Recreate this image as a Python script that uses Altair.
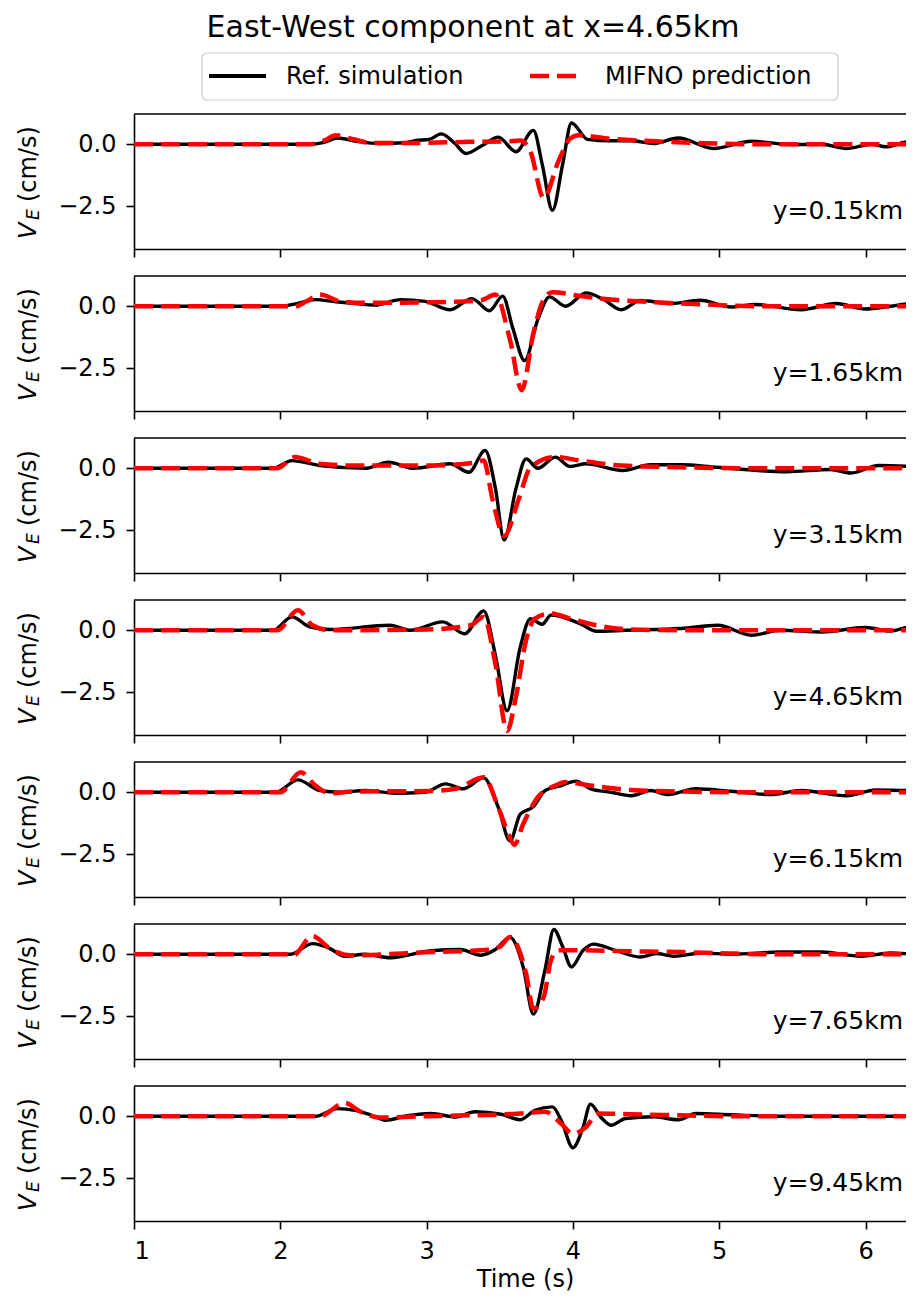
import altair as alt
import pandas as pd

# ---------------- data ----------------
TITLE = "East-West component at x=4.65km"
LEGEND_LABELS = ["Ref. simulation", "MIFNO prediction"]
PANEL_LABELS = ["y=0.15km", "y=1.65km", "y=3.15km", "y=4.65km", "y=6.15km", "y=7.65km", "y=9.45km"]
X_TICKS = [1, 2, 3, 4, 5, 6]
Y_TICKS = [0.0, -2.5]
X_DOMAIN = [1.0, 6.345]
Y_DOMAIN = [-4.22, 1.22]

ref_t_1 = [1.0, 2.2, 2.30, 2.39, 2.52, 2.68, 2.85, 2.92, 3.02, 3.10, 3.19, 3.27, 3.38, 3.49, 3.61, 3.73, 3.79, 3.86, 3.93, 3.99, 4.10, 4.25, 4.40, 4.55, 4.72, 4.96, 5.22, 5.49, 5.70, 5.87, 6.04, 6.14, 6.29, 6.345]
ref_v_1 = [0.0, 0.0, 0.08, 0.25, 0.12, 0.03, 0.06, 0.15, 0.2, 0.42, 0.05, -0.37, -0.05, 0.29, -0.3, 0.56, -0.8, -2.66, -0.8, 0.86, 0.2, 0.14, 0.14, 0.03, 0.25, -0.17, 0.12, -0.01, 0.0, -0.17, 0.0, -0.1, 0.1, 0.05]
pred_t_1 = [1.0, 2.2, 2.3, 2.38, 2.5, 2.62, 2.9, 3.3, 3.55, 3.64, 3.71, 3.80, 3.90, 3.98, 4.04, 4.26, 4.57, 4.91, 5.3, 6.345]
pred_v_1 = [0.0, 0.0, 0.15, 0.36, 0.2, 0.05, 0.05, 0.1, 0.12, 0.15, -0.3, -2.16, -0.7, 0.22, 0.36, 0.22, 0.12, 0.04, 0.0, 0.0]

ref_t_2 = [1.0, 2.0, 2.12, 2.24, 2.38, 2.51, 2.65, 2.82, 2.99, 3.16, 3.31, 3.43, 3.52, 3.59, 3.67, 3.76, 3.84, 3.95, 4.09, 4.21, 4.33, 4.46, 4.67, 4.87, 5.08, 5.25, 5.56, 5.80, 6.00, 6.17, 6.31, 6.345]
ref_v_2 = [0.0, 0.0, 0.12, 0.27, 0.18, 0.11, 0.05, 0.27, 0.2, -0.14, 0.31, -0.18, 0.41, -0.9, -2.19, -0.54, 0.38, 0.0, 0.54, 0.27, -0.14, 0.23, 0.11, 0.24, -0.03, 0.07, -0.14, 0.11, -0.11, 0.0, 0.11, 0.08]
pred_t_2 = [1.0, 2.1, 2.18, 2.27, 2.41, 2.58, 3.03, 3.37, 3.47, 3.57, 3.65, 3.73, 3.80, 3.86, 4.05, 4.26, 4.57, 4.91, 5.3, 6.345]
pred_v_2 = [0.0, 0.0, 0.2, 0.47, 0.2, 0.14, 0.16, 0.24, 0.47, -1.35, -3.38, -1.08, 0.27, 0.57, 0.41, 0.27, 0.16, 0.07, 0.0, 0.0]

ref_t_3 = [1.0, 1.95, 2.08, 2.27, 2.58, 2.74, 2.91, 3.16, 3.29, 3.40, 3.47, 3.53, 3.61, 3.68, 3.76, 3.88, 3.98, 4.09, 4.34, 4.53, 4.74, 4.98, 5.46, 5.76, 5.90, 6.09, 6.31, 6.345]
ref_v_3 = [0.0, 0.0, 0.31, 0.11, 0.0, 0.24, 0.0, 0.18, -0.16, 0.72, -0.8, -2.89, -0.84, 0.38, 0.0, 0.45, 0.07, 0.18, -0.09, 0.14, 0.14, 0.04, -0.14, -0.05, -0.19, 0.11, 0.07, 0.06]
pred_t_3 = [1.0, 1.98, 2.10, 2.27, 2.51, 3.0, 3.33, 3.39, 3.45, 3.53, 3.63, 3.71, 3.88, 4.05, 4.33, 4.74, 5.2, 6.345]
pred_v_3 = [0.0, 0.0, 0.45, 0.18, 0.11, 0.11, 0.22, 0.31, -1.24, -2.73, -1.24, 0.04, 0.45, 0.31, 0.11, 0.04, 0.0, 0.0]

ref_t_4 = [1.0, 1.95, 2.08, 2.20, 2.34, 2.75, 2.89, 3.11, 3.26, 3.39, 3.47, 3.55, 3.64, 3.71, 3.79, 3.85, 3.98, 4.07, 4.16, 4.36, 4.74, 4.99, 5.22, 5.42, 5.70, 6.00, 6.17, 6.31, 6.345]
ref_v_4 = [0.0, 0.0, 0.54, 0.14, 0.03, 0.2, 0.0, 0.34, -0.14, 0.78, -1.0, -3.24, -0.68, 0.47, 0.24, 0.61, 0.43, 0.2, -0.04, 0.0, 0.07, 0.2, -0.2, 0.0, -0.07, 0.11, -0.03, 0.14, 0.12]
pred_t_4 = [1.0, 1.98, 2.12, 2.22, 2.34, 3.0, 3.30, 3.39, 3.47, 3.55, 3.61, 3.68, 3.74, 3.85, 3.98, 4.16, 4.40, 4.8, 6.345]
pred_v_4 = [0.0, 0.0, 0.81, 0.2, 0.0, 0.03, 0.2, 0.54, -1.35, -4.05, -2.7, -0.4, 0.47, 0.68, 0.47, 0.2, 0.03, 0.0, 0.0]

ref_t_5 = [1.0, 1.97, 2.12, 2.27, 2.41, 2.58, 2.79, 2.99, 3.13, 3.25, 3.39, 3.49, 3.57, 3.64, 3.73, 3.81, 3.92, 4.02, 4.12, 4.26, 4.40, 4.53, 4.65, 4.84, 5.08, 5.35, 5.56, 5.87, 6.07, 6.31, 6.345]
ref_v_5 = [0.0, 0.0, 0.5, 0.07, 0.0, 0.07, -0.04, 0.0, 0.34, 0.14, 0.58, -0.61, -1.96, -0.88, -0.58, 0.07, 0.27, 0.45, 0.14, 0.0, -0.14, 0.07, -0.09, 0.14, 0.04, -0.09, 0.07, -0.14, 0.09, 0.07, 0.07]
pred_t_5 = [1.0, 2.0, 2.14, 2.24, 2.34, 2.5, 3.03, 3.20, 3.39, 3.49, 3.56, 3.60, 3.66, 3.76, 3.88, 3.95, 4.12, 4.40, 4.74, 5.1, 6.345]
pred_v_5 = [0.0, 0.0, 0.81, 0.27, -0.04, 0.03, 0.05, 0.14, 0.61, -0.61, -1.69, -2.12, -1.28, -0.2, 0.27, 0.41, 0.27, 0.09, 0.03, 0.0, 0.0]

ref_t_6 = [1.0, 2.07, 2.22, 2.34, 2.44, 2.58, 2.75, 3.03, 3.23, 3.37, 3.47, 3.57, 3.66, 3.73, 3.81, 3.87, 3.93, 3.99, 4.07, 4.14, 4.29, 4.46, 4.57, 4.69, 4.88, 5.08, 5.42, 5.70, 5.97, 6.17, 6.345]
ref_v_6 = [0.0, 0.0, 0.43, 0.23, -0.08, 0.0, -0.14, 0.14, 0.19, -0.04, 0.19, 0.68, -0.51, -2.41, -0.6, 1.0, 0.3, -0.51, 0.16, 0.41, 0.16, -0.11, 0.03, -0.08, 0.05, 0.0, 0.09, 0.09, -0.08, 0.05, 0.0]
pred_t_6 = [1.0, 2.04, 2.08, 2.22, 2.34, 2.48, 3.03, 3.37, 3.50, 3.57, 3.68, 3.73, 3.80, 3.85, 3.90, 4.05, 4.40, 4.74, 5.08, 5.4, 6.345]
pred_v_6 = [0.0, 0.0, -0.08, 0.73, 0.23, -0.04, 0.09, 0.16, 0.3, 0.7, -0.78, -2.2, -1.73, -0.24, 0.16, 0.16, 0.12, 0.09, 0.03, 0.0, 0.0]

ref_t_7 = [1.0, 2.24, 2.39, 2.51, 2.62, 2.72, 2.88, 3.03, 3.20, 3.33, 3.51, 3.64, 3.74, 3.86, 3.92, 4.00, 4.07, 4.12, 4.19, 4.26, 4.36, 4.55, 4.72, 4.84, 5.08, 5.42, 6.345]
ref_v_7 = [0.0, 0.0, 0.31, 0.24, 0.05, -0.16, 0.03, 0.11, -0.03, 0.18, 0.08, -0.14, 0.24, 0.38, -0.16, -1.27, -0.43, 0.49, -0.03, -0.36, -0.09, -0.02, -0.14, 0.11, 0.06, 0.0, 0.0]
pred_t_7 = [1.0, 2.27, 2.44, 2.55, 2.68, 3.0, 3.64, 3.81, 3.92, 4.00, 4.09, 4.17, 4.39, 4.74, 5.08, 6.345]
pred_v_7 = [0.0, 0.0, 0.54, 0.18, -0.05, 0.0, 0.11, 0.18, -0.3, -0.7, -0.43, 0.11, 0.08, 0.04, 0.0, 0.0]

REF = [(ref_t_1, ref_v_1), (ref_t_2, ref_v_2), (ref_t_3, ref_v_3), (ref_t_4, ref_v_4),
       (ref_t_5, ref_v_5), (ref_t_6, ref_v_6), (ref_t_7, ref_v_7)]
PRED = [(pred_t_1, pred_v_1), (pred_t_2, pred_v_2), (pred_t_3, pred_v_3), (pred_t_4, pred_v_4),
        (pred_t_5, pred_v_5), (pred_t_6, pred_v_6), (pred_t_7, pred_v_7)]

# ---------------- layout / style ----------------
FONT = "DejaVu Sans"
W, H = 782, 135
N = len(PANEL_LABELS)


def text_layer(txt, x, y, size, align="left", baseline="alphabetic", angle=0, italic=False):
    kw = dict(text=txt, font=FONT, fontSize=size, align=align, baseline=baseline, color="black")
    if angle:
        kw["angle"] = angle
    if italic:
        kw["fontStyle"] = "italic"
    return alt.Chart(pd.DataFrame({"k": [0]})).mark_text(**kw).encode(x=alt.value(x), y=alt.value(y))


panels = []
for i in range(N):
    last = i == N - 1
    ref_df = pd.DataFrame({"t": REF[i][0], "v": REF[i][1]})
    pred_df = pd.DataFrame({"t": PRED[i][0], "v": PRED[i][1]})

    x_axis = alt.Axis(values=X_TICKS, labels=last, title="Time (s)" if last else None,
                      tickSize=8, labelPadding=10, titlePadding=4, format="d")
    xenc = alt.X("t:Q", scale=alt.Scale(domain=X_DOMAIN, nice=False, zero=False), axis=x_axis)
    yenc = alt.Y("v:Q", scale=alt.Scale(domain=Y_DOMAIN, nice=False, zero=False),
                 axis=alt.Axis(values=Y_TICKS, format=".1f", title=None, tickSize=8, labelPadding=10))

    ref_line = alt.Chart(ref_df).mark_line(color="black", strokeWidth=3.4, interpolate="monotone",
                                           clip=True).encode(x=xenc, y=yenc)
    pred_line = alt.Chart(pred_df).mark_line(color="#ff0000", strokeWidth=4.5, strokeDash=[19, 8],
                                             interpolate="monotone", clip=True).encode(x=xenc, y=yenc)

    top_rule = alt.Chart(pd.DataFrame({"k": [0]})).mark_rule(color="black", strokeWidth=1.6).encode(
        x=alt.value(0), x2=alt.value(W), y=alt.value(0))

    label = text_layer(PANEL_LABELS[i], W - 13, 105, 25, align="right")

    yt_v = text_layer("V", -98.5, 125, 24, angle=270, italic=True)
    yt_e = text_layer("E", -95, 106, 17, angle=270, italic=True)
    yt_u = text_layer("(cm/s)", -98.5, 88, 24, angle=270)

    layers = [ref_line, pred_line, top_rule, label, yt_v, yt_e, yt_u]

    if i == 0:
        title = text_layer(TITLE, 339, -77, 30, align="center")
        box = alt.Chart(pd.DataFrame({"k": [0]})).mark_rect(
            fill="white", stroke="#cccccc", strokeWidth=1.2, cornerRadius=5).encode(
            x=alt.value(68), x2=alt.value(704), y=alt.value(-61), y2=alt.value(-14))
        leg_ref = alt.Chart(pd.DataFrame({"k": [0]})).mark_rule(color="black", strokeWidth=4).encode(
            x=alt.value(75), x2=alt.value(132), y=alt.value(-38))
        leg_pred = alt.Chart(pd.DataFrame({"k": [0]})).mark_rule(
            color="#ff0000", strokeWidth=4.5, strokeDash=[19, 8]).encode(
            x=alt.value(396), x2=alt.value(443), y=alt.value(-38))
        leg_t1 = text_layer(LEGEND_LABELS[0], 152, -30, 24)
        leg_t2 = text_layer(LEGEND_LABELS[1], 471, -30, 24)
        layers += [title, box, leg_ref, leg_pred, leg_t1, leg_t2]

    panels.append(alt.layer(*layers).properties(width=W, height=H))

chart = alt.vconcat(*panels, spacing=27, bounds="flush").properties(
    padding={"left": 8, "top": 5, "right": -11, "bottom": 0}
).configure(font=FONT).configure_view(stroke=None).configure_axis(
    grid=False, domainColor="black", domainWidth=1.6, tickColor="black", tickWidth=1.6,
    labelColor="black", labelFont=FONT, labelFontSize=24, titleFont=FONT, titleFontSize=24,
    titleFontWeight="normal", titleColor="black"
)

chart.save("out.html", embed_options={"renderer": "svg", "actions": False})
